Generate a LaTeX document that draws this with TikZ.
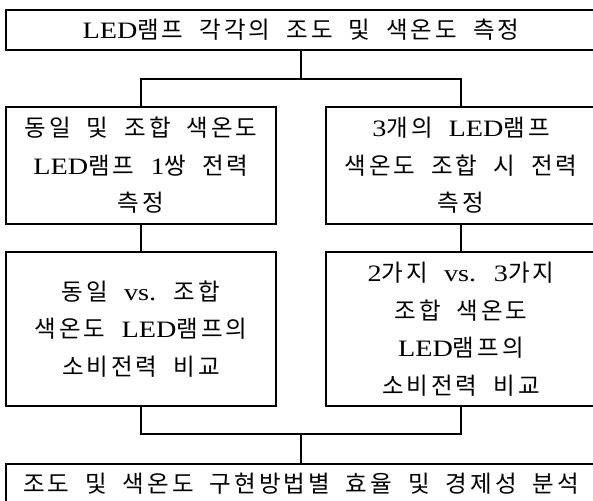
\documentclass[tikz,border=0pt]{standalone}
\usepackage{fontspec}
\newfontfamily\krfont{Noto Sans CJK KR}
\newfontfamily\latfont{Liberation Serif}[FakeStretch=1.2]
\newcommand\lat[1]{{\latfont #1}}
\XeTeXinterchartokenstate=1
\newXeTeXintercharclass\hgclass
\count255="AC00
\loop\XeTeXcharclass\count255=\hgclass\ifnum\count255<"D7A3 \advance\count255 by 1 \repeat
\XeTeXinterchartoks\hgclass\hgclass={\kern3pt}
\newcommand\boxfont{\krfont\fontsize{23.5pt}{37.5pt}\selectfont\spaceskip=16pt plus 0pt minus 0pt\relax}
\begin{document}
\begin{tikzpicture}[x=1pt,y=-1pt,
  box/.style={draw,line width=1.1pt,rectangle,inner sep=0pt,align=center,font=\boxfont},
  link/.style={line width=1.1pt}]
\useasboundingbox (0,0) rectangle (593,500);
\clip (0,0) rectangle (593,500);
\node[box,minimum width=590pt,minimum height=40pt] (t) at (301,30)
  {\lat{LED}램프 각각의 조도 및 색온도 측정};
\node[box,minimum width=270pt,minimum height=117pt] (a) at (141,165.5)
  {동일 및 조합 색온도\\\lat{LED}램프 \lat{1}쌍 전력\\측정};
\node[box,minimum width=270pt,minimum height=117pt] (b) at (461,165.5)
  {\lat{3}개의 \lat{LED}램프\\색온도 조합 시 전력\\측정};
\node[box,minimum width=270pt,minimum height=154pt] (c) at (141,329)
  {동일 \lat{vs.} 조합\\색온도 \lat{LED}램프의\\소비전력 비교};
\node[box,minimum width=270pt,minimum height=154pt] (d) at (461,329)
  {\lat{2}가지 \lat{vs.} \lat{3}가지\\조합 색온도\\\lat{LED}램프의\\소비전력 비교};
\node[box,minimum width=590pt,minimum height=40pt] (e) at (301,484)
  {조도 및 색온도 구현방법별 효율 및 경제성 분석};
\coordinate (j1) at (301,79);
\coordinate (j2) at (301,434);
\draw[link] (t.south) -- (j1);
\draw[link] (a.north) -- (a.north |- j1) -- (b.north |- j1) -- (b.north);
\draw[link] (a.south) -- (c.north);
\draw[link] (b.south) -- (d.north);
\draw[link] (c.south) -- (c.south |- j2) -- (d.south |- j2) -- (d.south);
\draw[link] (j2) -- (e.north);
\end{tikzpicture}
\end{document}
